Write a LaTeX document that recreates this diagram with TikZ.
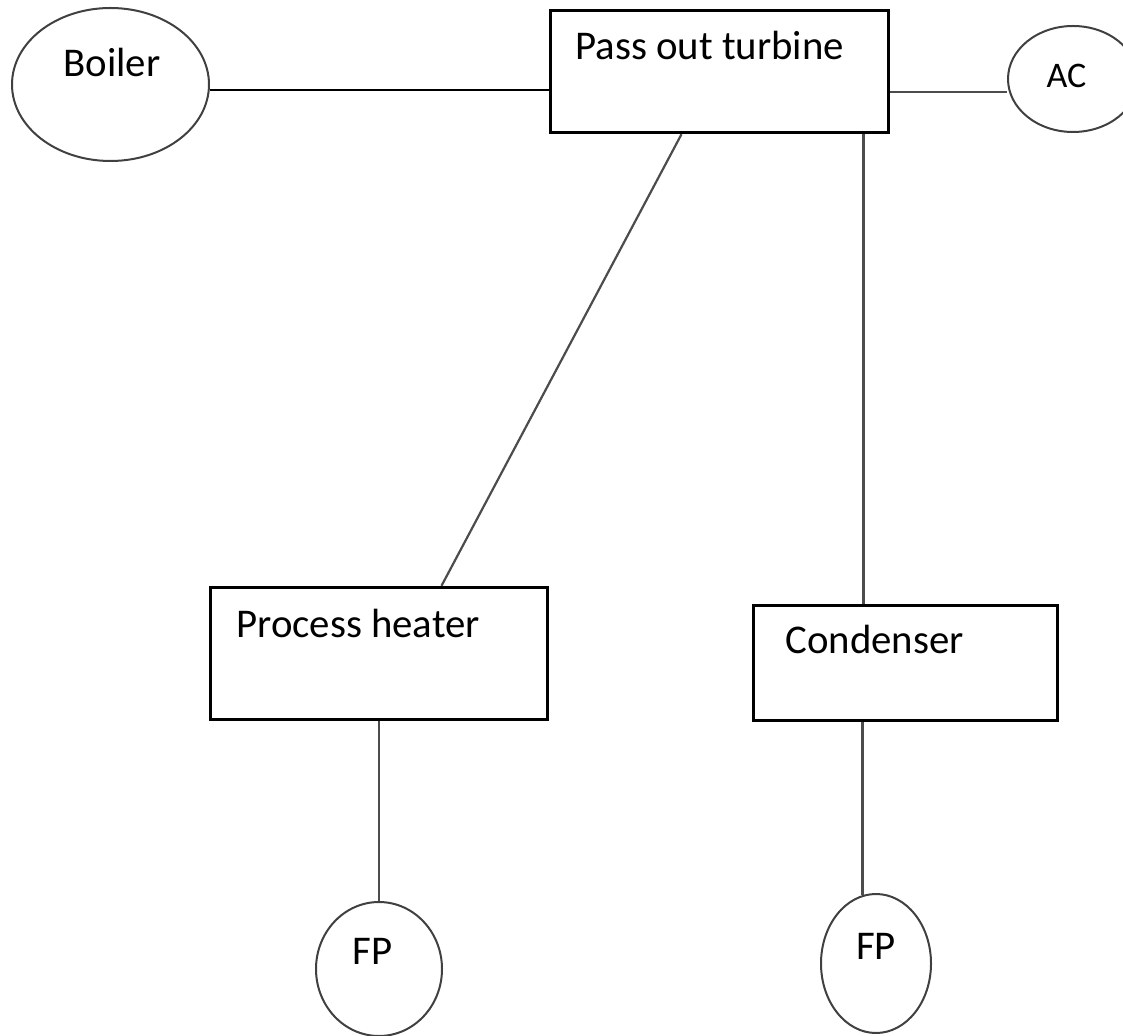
\documentclass[tikz,border=0pt]{standalone}
\usepackage{fontspec}
\setmainfont{Carlito}
\usepackage{tikz}
\usetikzlibrary{positioning, shapes.geometric, calc}

\begin{document}
\begin{tikzpicture}[
      x=0.5pt, y=-0.5pt,
      unitbox/.style={draw=black, line width=1.5pt, rectangle, inner sep=0pt},
      unitoval/.style={draw=black!75, line width=1pt, ellipse, inner sep=0pt},
      lbl/.style={inner sep=0pt, font=\fontsize{20.4}{24}\selectfont},
      wire/.style={draw=black!70, line width=1.1pt}
    ]
      \useasboundingbox (0,0) rectangle (1123,1036);

      % Top row: boiler, turbine and AC
      \node[unitoval, minimum width=98.5pt, minimum height=76.5pt] (boiler) at (110.5,84.5) {};
      \node[unitbox, minimum width=169pt, minimum height=61pt] (turbine) at (719,71.7) {};
      \node[unitoval, minimum width=65pt, minimum height=53pt] (ac) at (1073,79) {};

      % Heater and condenser
      \node[unitbox, minimum width=168.5pt, minimum height=66.2pt] (heater) at (378.8,653.5) {};
      \node[unitbox, minimum width=151.8pt, minimum height=57.8pt] (cond) at (905.5,663) {};

      % Feed pumps
      \node[unitoval, minimum width=63pt, minimum height=67pt] (fpa) at (379,969) {};
      \node[unitoval, minimum width=55pt, minimum height=69.5pt] (fpb) at (876,963.5) {};

      % Labels, placed top left in each unit
      \node[lbl, anchor=base west] (boilertxt) at (63,77) {Boiler};
      \node[lbl, anchor=base west] (turbinetxt) at (575,60) {Pass out turbine};
      \node[lbl, anchor=base, font=\fontsize{18}{22}\selectfont] (actxt) at (1066.5,88) {AC};
      \node[lbl, anchor=base west] (heatertxt) at (236,637) {Process heater};
      \node[lbl, anchor=base west] (condtxt) at (785,653) {Condenser};
      \node[lbl, anchor=base] (fpatxt) at (372.5,964) {FP};
      \node[lbl, anchor=base] (fpbtxt) at (876,959) {FP};

      % Connecting lines
      \coordinate (bout) at ([yshift=-2.75pt]boiler.east);
      \draw[wire, draw=black] (bout) -- (bout -| turbine.west);

      \coordinate (acin) at ([yshift=-10.35pt]turbine.east);
      \draw[wire] (acin) -- (acin -| ac.west);

      \draw[wire] ([xshift=66.5pt]turbine.south west) -- ([xshift=116.35pt]heater.north west);

      \coordinate (tcond) at ([xshift=157.5pt]turbine.south west);
      \draw[wire] (tcond) -- (tcond |- cond.north);

      \draw[wire] (heater.south) -- (heater.south |- fpa.north);

      \coordinate (cfp) at ([xshift=55.15pt]cond.south west);
      \draw[wire] (cfp) -- ([yshift=-0.8pt]cfp |- fpb.north);

    \end{tikzpicture}
\end{document}
